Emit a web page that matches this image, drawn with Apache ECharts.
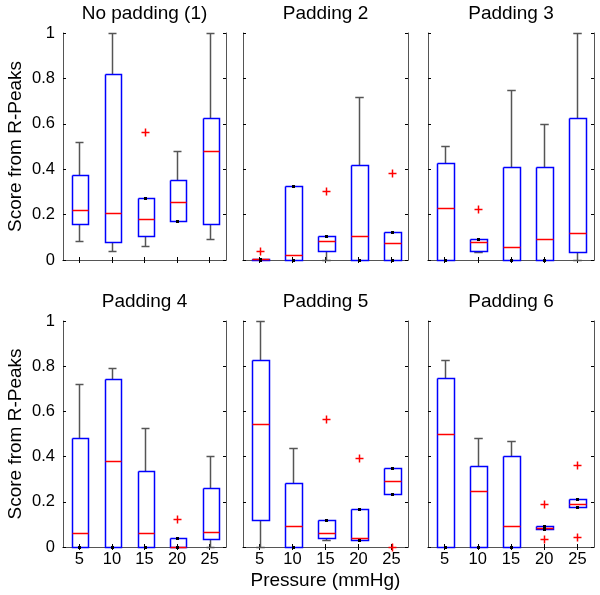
<!DOCTYPE html>
<html>
<head>
<meta charset="utf-8">
<script src="https://cdn.jsdelivr.net/npm/echarts@6/dist/echarts.min.js"></script>
<style>
html,body{margin:0;padding:0;background:#fff;}
#chart{width:600px;height:595px;}
</style>
</head>
<body>
<div id="chart"></div>
<script>
// ---- data ----
const categories = ['5', '10', '15', '20', '25'];
const panelTitles = ['No padding (1)', 'Padding 2', 'Padding 3', 'Padding 4', 'Padding 5', 'Padding 6'];
const yTickLabels = ['0', '0.2', '0.4', '0.6', '0.8', '1'];
const xAxisTitle = 'Pressure (mmHg)';
const yAxisTitle = 'Score from R-Peaks';

// each box: [lower whisker, Q1, median, Q3, upper whisker]
const boxesP1 = [[0.084, 0.160, 0.219, 0.374, 0.518], [0.038, 0.079, 0.207, 0.818, 1.0], [0.060, 0.106, 0.181, 0.272, 0.272], [0.172, 0.172, 0.256, 0.354, 0.482], [0.091, 0.160, 0.478, 0.625, 1.0]];
const outliersP1 = [[2, 0.566]];
const boxesP2 = [[0, 0, 0.003, 0.006, 0.006], [0, 0, 0.022, 0.324, 0.324], [0, 0.038, 0.084, 0.104, 0.104], [0, 0, 0.104, 0.420, 0.718], [0, 0, 0.074, 0.125, 0.125]];
const outliersP2 = [[0, 0.040], [2, 0.306], [4, 0.385]];
const boxesP3 = [[0, 0, 0.228, 0.426, 0.501], [0.034, 0.040, 0.079, 0.091, 0.091], [0, 0, 0.056, 0.410, 0.750], [0, 0, 0.091, 0.410, 0.600], [0, 0.034, 0.118, 0.625, 1.0]];
const outliersP3 = [[1, 0.226]];
const boxesP4 = [[0, 0, 0.062, 0.482, 0.720], [0, 0, 0.380, 0.744, 0.794], [0, 0, 0.060, 0.336, 0.526], [0, 0, 0, 0.040, 0.040], [0, 0.035, 0.066, 0.259, 0.404]];
const outliersP4 = [[3, 0.122]];
const boxesP5 = [[0, 0.121, 0.543, 0.826, 1.0], [0, 0, 0.093, 0.281, 0.436], [0.032, 0.040, 0.062, 0.119, 0.119], [0.029, 0.029, 0.040, 0.168, 0.168], [0.234, 0.234, 0.292, 0.348, 0.348]];
const outliersP5 = [[2, 0.568], [3, 0.392], [4, 0.0]];
const boxesP6 = [[0, 0, 0.499, 0.750, 0.826], [0, 0, 0.247, 0.358, 0.482], [0, 0, 0.093, 0.404, 0.468], [0.080, 0.080, 0.085, 0.093, 0.093], [0.175, 0.175, 0.191, 0.211, 0.211]];
const outliersP6 = [[3, 0.191], [3, 0.037], [4, 0.362], [4, 0.044]];

const allBoxes = [boxesP1, boxesP2, boxesP3, boxesP4, boxesP5, boxesP6];
const allOutliers = [outliersP1, outliersP2, outliersP3, outliersP4, outliersP5, outliersP6];

// ---- layout ----
const gridDefs = [
  {left: 63, top: 33, width: 163, height: 227},
  {left: 243, top: 33, width: 165, height: 227},
  {left: 428, top: 33, width: 166, height: 227},
  {left: 63, top: 321, width: 163, height: 226},
  {left: 243, top: 321, width: 165, height: 226},
  {left: 428, top: 321, width: 166, height: 226}
];
const FONT = 'Liberation Sans, Arial, sans-serif';
const frameColor = '#555';
const BLUE = '#0000ff', RED = '#ff0000', WHISK = '#555';
const LW = 1.5;

const px = v => Math.round(v) + 0.5;

function geom(api) {
  const xi = api.value(0);
  const band = api.size([1, 0])[0];
  const w = Math.round(band * 0.5);
  const cx = px(api.coord([xi, 0])[0]);
  const L = Math.round(cx - w / 2) + 0.5;
  const y = k => px(api.coord([xi, api.value(k)])[1]);
  return {cx, L, R: L + w, cap: w / 4, yLo: y(1), yQ1: y(2), yMed: y(3), yQ3: y(4), yHi: y(5),
    lo: api.value(1), q1: api.value(2), q3: api.value(4), hi: api.value(5)};
}

function renderWhiskers(params, api) {
  const g = geom(api);
  const pts = [];
  if (g.hi > g.q3) pts.push([[g.cx, g.yHi], [g.cx, g.yQ3]], [[g.cx - g.cap, g.yHi], [g.cx + g.cap, g.yHi]]);
  if (g.lo < g.q1) pts.push([[g.cx, g.yQ1], [g.cx, g.yLo]], [[g.cx - g.cap, g.yLo], [g.cx + g.cap, g.yLo]]);
  return {type: 'group', children: pts.map(p => ({type: 'polyline', shape: {points: p},
    style: {stroke: WHISK, fill: null, lineWidth: LW}}))};
}

function renderRect(params, api) {
  const g = geom(api);
  return {type: 'polyline', shape: {points: [[g.L, g.yQ3], [g.R, g.yQ3], [g.R, g.yQ1], [g.L, g.yQ1], [g.L, g.yQ3]]},
    style: {stroke: BLUE, fill: null, lineWidth: LW}};
}

function renderMedian(params, api) {
  const g = geom(api);
  return {type: 'polyline', shape: {points: [[g.L, g.yMed], [g.R, g.yMed]]},
    style: {stroke: RED, fill: null, lineWidth: LW}};
}

function renderDots(params, api) {
  const g = geom(api);
  const ch = [];
  if (g.hi === g.q3) ch.push({type: 'rect', shape: {x: g.cx - 1.5, y: g.yQ3 - 1.5, width: 3, height: 3}, style: {fill: '#000'}});
  if (g.lo === g.q1) ch.push({type: 'rect', shape: {x: g.cx - 1.5, y: g.yQ1 - 1.5, width: 3, height: 3}, style: {fill: '#000'}});
  return {type: 'group', children: ch};
}

function renderPlus(params, api) {
  const p = api.coord([api.value(0), api.value(1)]);
  const x = px(p[0]), y = px(p[1]);
  return {type: 'group', children: [
    {type: 'polyline', shape: {points: [[x - 4, y], [x + 4, y]]}, style: {stroke: RED, fill: null, lineWidth: LW}},
    {type: 'polyline', shape: {points: [[x, y - 4], [x, y + 4]]}, style: {stroke: RED, fill: null, lineWidth: LW}}
  ]};
}

const grid = [], xAxis = [], yAxis = [], series = [], graphic = [];
gridDefs.forEach((g, i) => {
  grid.push(Object.assign({containLabel: false}, g));
  const bottomRow = i >= 3, leftCol = i % 3 === 0;
  const axLine = {show: true, lineStyle: {color: frameColor, width: 1}};
  const tick = {show: true, inside: true, length: 3, alignWithLabel: true, lineStyle: {color: '#000'}};
  xAxis.push({gridIndex: i, type: 'category', data: categories, position: 'bottom', boundaryGap: true,
    axisLine: axLine, axisTick: tick,
    axisLabel: {show: bottomRow, color: '#000', fontSize: 16.5, fontFamily: FONT, margin: 4},
    splitLine: {show: false}});
  xAxis.push({gridIndex: i, type: 'category', data: categories, position: 'top', boundaryGap: true,
    axisLine: axLine, axisTick: tick, axisLabel: {show: false}, splitLine: {show: false}});
  yAxis.push({gridIndex: i, type: 'value', min: 0, max: 1, interval: 0.2, position: 'left',
    axisLine: axLine, axisTick: {show: true, inside: true, length: 3, lineStyle: {color: '#000'}},
    axisLabel: {show: leftCol, color: '#000', fontSize: 16.5, fontFamily: FONT, margin: 8,
      formatter: (v) => yTickLabels[Math.round(v * 5)]},
    splitLine: {show: false}});
  yAxis.push({gridIndex: i, type: 'value', min: 0, max: 1, interval: 0.2, position: 'right',
    axisLine: axLine, axisTick: {show: true, inside: true, length: 3, lineStyle: {color: '#000'}},
    axisLabel: {show: false}, splitLine: {show: false}});
  const boxData = allBoxes[i].map((b, k) => [k].concat(b));
  const common = {type: 'custom', xAxisIndex: 2 * i, yAxisIndex: 2 * i, encode: {x: 0, y: [1, 2, 3, 4, 5]},
    clip: false, silent: true, animation: false};
  series.push(Object.assign({}, common, {name: 'whisk' + i, z: 2, renderItem: renderWhiskers, data: boxData}));
  series.push(Object.assign({}, common, {name: 'box' + i, z: 3, renderItem: renderRect, data: boxData}));
  series.push(Object.assign({}, common, {name: 'med' + i, z: 4, renderItem: renderMedian, data: boxData}));
  series.push(Object.assign({}, common, {name: 'dot' + i, z: 5, renderItem: renderDots, data: boxData}));
  series.push({type: 'custom', name: 'out' + i, xAxisIndex: 2 * i, yAxisIndex: 2 * i, z: 6, renderItem: renderPlus,
    encode: {x: 0, y: 1}, clip: false, silent: true, animation: false, data: allOutliers[i]});
  graphic.push({type: 'text', x: g.left + g.width / 2, y: (bottomRow ? 302 : 14),
    style: {text: panelTitles[i], font: '19px ' + FONT, fill: '#000', textAlign: 'center', textVerticalAlign: 'middle'}});
  if (leftCol) {
    graphic.push({type: 'text', x: 16, y: g.top + g.height / 2, rotation: Math.PI / 2,
      style: {text: yAxisTitle, font: '19px ' + FONT, fill: '#000', textAlign: 'center', textVerticalAlign: 'middle'}});
  }
});
graphic.push({type: 'text', x: gridDefs[4].left + gridDefs[4].width / 2, y: 581,
  style: {text: xAxisTitle, font: '19px ' + FONT, fill: '#000', textAlign: 'center', textVerticalAlign: 'middle'}});

const chart = echarts.init(document.getElementById('chart'), null, {renderer: 'canvas'});
chart.setOption({animation: false, backgroundColor: '#fff', grid, xAxis, yAxis, series, graphic});
</script>
</body>
</html>
